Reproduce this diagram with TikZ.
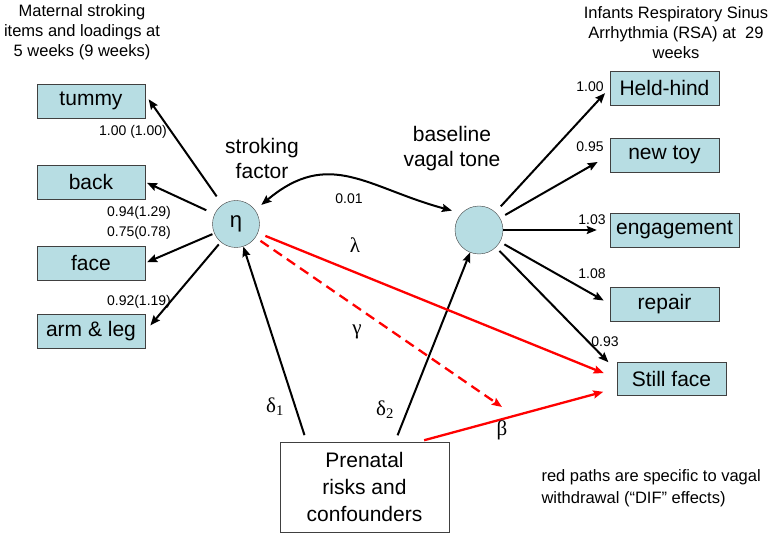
\documentclass[tikz,border=0pt]{standalone}
\usepackage{fontspec}
\setmainfont{Liberation Sans}
\newfontfamily\greekfont{Liberation Serif}
\usetikzlibrary{arrows.meta,calc}
\definecolor{itemfill}{RGB}{183,221,227}

\begin{document}
\begin{tikzpicture}[x=1pt,y=-1pt,>={Stealth[length=10pt,width=8pt,inset=1.5pt]},
        item/.style={draw=black!75,fill=itemfill,minimum width=108pt,minimum height=34pt,inner sep=0pt,font=\fontsize{21}{25}\selectfont},
        latent/.style={circle,draw=black!75,fill=itemfill,minimum size=47pt,inner sep=0pt,font=\fontsize{22}{26}\selectfont},
        load/.style={font=\fontsize{14}{17}\selectfont},
        lbl/.style={font=\fontsize{21}{25}\selectfont,align=center},
        small/.style={font=\fontsize{16.5}{20}\selectfont,align=center},
        greek/.style={font=\greekfont\fontsize{21}{25}\selectfont},
        arr/.style={->,line width=2pt},
        redarr/.style={->,line width=2.3pt,red}]
        \useasboundingbox (0,0) rectangle (772,537);
        % titles
        \node [small] (lefttitle) at (82,32) {Maternal stroking\\items and loadings at\\5 weeks (9 weeks)};
        \node [small] (righttitle) at (676,33) {Infants Respiratory Sinus\\Arrhythmia (RSA) at\ \ 29\\weeks};
        % stroking items
        \node [item] (tummy) at (91,101) {tummy};
        \node [item] (back) at (91,182) {back};
        \node [item] (face) at (91,263) {face};
        \node [item] (arm) at (91,331.5) {arm \& leg};
        % latent factors
        \node [latent] (eta) at (236,224) {η};
        \node [latent,minimum size=48pt] (vagal) at (479,230) {};
        \node [lbl] (strokelbl) at (262,158) {stroking\\factor};
        \node [lbl] (vagallbl) at (452,149) {baseline\\vagal tone};
        % RSA items
        \node [item,minimum width=109pt] (held) at (664.5,88) {Held-hind};
        \node [item,minimum width=109pt] (newtoy) at (664.5,155) {new toy};
        \node [item,minimum width=129pt] (engage) at (674.5,230) {engagement};
        \node [item,minimum width=109pt] (repair) at (664.5,304) {repair};
        \node [item,minimum width=109pt,minimum height=33pt] (still) at (671.5,378.5) {Still face};
        % risks
        \node [draw=black!75,minimum width=169pt,minimum height=90pt,align=center,font=\fontsize{21}{27}\selectfont] (prenatal) at (364.5,487) {Prenatal\\risks and\\confounders};
        \coordinate (gammaend) at (502,407);

        % loadings
        \draw [arr,shorten <=10pt,shorten >=6pt] (eta) -- (tummy.7);
        \draw [arr,shorten <=9pt,shorten >=2pt] (eta) -- (back.east);
        \draw [arr,shorten <=2pt,shorten >=2pt] (eta) -- (face.east);
        \draw [arr,shorten <=3pt,shorten >=8pt] (eta) -- (arm.east);
        \draw [arr,shorten <=8pt,shorten >=7pt] (vagal) -- (held.west);
        \draw [arr,shorten <=6pt,shorten >=14pt] (vagal) -- (newtoy.west);
        \draw [arr,shorten >=13pt] (vagal) -- (engage.west);
        \draw [arr,shorten <=5pt,shorten >=7pt] (vagal) -- (repair.west);
        \draw [arr,shorten <=5pt,shorten >=12pt] (vagal) -- (still.172);
        \draw [arr,<->,shorten <=8pt,shorten >=10pt] (eta.36) to [out=40,in=165,looseness=1.2] (vagal.136);
        % risk paths
        \draw [arr,shorten <=7pt] (prenatal.142) -- (eta);
        \draw [arr,shorten <=7pt] (prenatal.56) -- (vagal);
        \draw [redarr,shorten <=8pt,shorten >=14pt] (eta) -- (still.west);
        \draw [redarr,dash pattern=on 10pt off 6pt,shorten <=6pt] (eta) -- (gammaend);
        \draw [redarr,shorten <=6pt,shorten >=14pt] (prenatal.40) -- (still.190);

        % labels
        \node [load] (l1) at (133,132) {1.00 (1.00)};
        \node [load] (l2) at (139,213) {0.94(1.29)};
        \node [load] (l3) at (139,233) {0.75(0.78)};
        \node [load] (l4) at (139,302) {0.92(1.19)};
        \node [load] (r1) at (590,87) {1.00};
        \node [load] (r2) at (590,147) {0.95};
        \node [load] (r3) at (592,220) {1.03};
        \node [load] (r4) at (592,274) {1.08};
        \node [load] (r5) at (605,342) {0.93};
        \node [load] (cov) at (349,199) {0.01};
        \node [greek] (lambda) at (355,245) {λ};
        \node [greek] (gamma) at (357,332) {γ};
        \node [greek] (beta) at (502,430) {β};
        \node [greek] (delta1) at (275,407) {δ\textsubscript{1}};
        \node [greek] (delta2) at (385,410) {δ\textsubscript{2}};
        \node [small,anchor=west,align=left,font=\fontsize{16.5}{22}\selectfont] (note) at (538,488.5) {red paths are specific to vagal\\withdrawal (“DIF” effects)};
\end{tikzpicture}
\end{document}
